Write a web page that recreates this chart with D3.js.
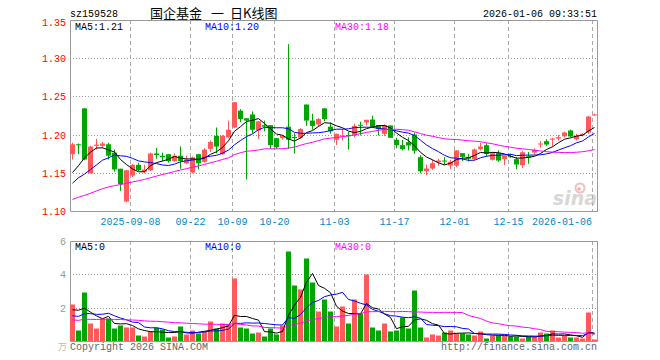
<!DOCTYPE html>
<html>
<head>
<meta charset="utf-8">
<script src="https://cdn.jsdelivr.net/npm/d3@7/dist/d3.min.js"></script>
<style>
body { margin: 0; background: #fff; }
text { font-family: 'Liberation Mono', 'DejaVu Sans Mono', monospace; font-size: 10px; }
</style>
</head>
<body>
<script>
//trading days shown on the chart (one candle each)
var dates = [
  '2025-08-25', '2025-08-26', '2025-08-27', '2025-08-28', '2025-08-29', '2025-09-01', '2025-09-02', '2025-09-03', '2025-09-04', '2025-09-05',
  '2025-09-08', '2025-09-09', '2025-09-10', '2025-09-11', '2025-09-12', '2025-09-15', '2025-09-16', '2025-09-17', '2025-09-18', '2025-09-19',
  '2025-09-22', '2025-09-23', '2025-09-24', '2025-09-25', '2025-09-26', '2025-09-29', '2025-09-30',
  '2025-10-09', '2025-10-10', '2025-10-13', '2025-10-14', '2025-10-15', '2025-10-16', '2025-10-17',
  '2025-10-20', '2025-10-21', '2025-10-22', '2025-10-23', '2025-10-24', '2025-10-27', '2025-10-28', '2025-10-29', '2025-10-30', '2025-10-31',
  '2025-11-03', '2025-11-04', '2025-11-05', '2025-11-06', '2025-11-07', '2025-11-10', '2025-11-11', '2025-11-12', '2025-11-13', '2025-11-14',
  '2025-11-17', '2025-11-18', '2025-11-19', '2025-11-20', '2025-11-21', '2025-11-24', '2025-11-25', '2025-11-26', '2025-11-27', '2025-11-28',
  '2025-12-01', '2025-12-02', '2025-12-03', '2025-12-04', '2025-12-05', '2025-12-08', '2025-12-09', '2025-12-10', '2025-12-11',
  '2025-12-15', '2025-12-16', '2025-12-17', '2025-12-18', '2025-12-19', '2025-12-22', '2025-12-23', '2025-12-24', '2025-12-25', '2025-12-26',
  '2025-12-29', '2025-12-30', '2025-12-31', '2026-01-05', '2026-01-06'
]

var opens = [
  1.175, 1.188, 1.235, 1.150, 1.186, 1.186, 1.188, 1.177, 1.156, 1.113,
  1.147, 1.161, 1.152, 1.154, 1.176, 1.173, 1.175, 1.166, 1.173, 1.163,
  1.151, 1.175, 1.165, 1.182, 1.199, 1.175, 1.197, 1.210, 1.232, 1.222,
  1.227, 1.206, 1.213, 1.213, 1.196, 1.196, 1.211, 1.1975, 1.1965, 1.240,
  1.219, 1.214, 1.235, 1.211, 1.194, 1.198, 1.200, 1.1995, 1.2135, 1.2165,
  1.2204, 1.213, 1.2017, 1.2126, 1.1938, 1.1868, 1.1907, 1.2008, 1.1711, 1.1528,
  1.1563, 1.1645, 1.1667, 1.1602, 1.160, 1.1763, 1.1715, 1.1685, 1.1816, 1.1868,
  1.1677, 1.1763, 1.1685, 1.1724, 1.1685, 1.1606, 1.1724, 1.1772, 1.1877, 1.192,
  1.194, 1.1955, 1.1985, 1.206, 1.1946, 1.1999, 1.2034, 1.2257
]
var highs = [
  1.190, 1.189, 1.235, 1.186, 1.195, 1.191, 1.190, 1.181, 1.156, 1.154,
  1.162, 1.164, 1.161, 1.177, 1.183, 1.177, 1.175, 1.176, 1.185, 1.173,
  1.172, 1.175, 1.183, 1.193, 1.210, 1.200, 1.219, 1.243, 1.234, 1.222,
  1.231, 1.218, 1.219, 1.213, 1.196, 1.200, 1.319, 1.2025, 1.209, 1.240,
  1.228, 1.222, 1.235, 1.2165, 1.2017, 1.208, 1.204, 1.215, 1.2175, 1.220,
  1.2253, 1.213, 1.214, 1.2126, 1.1965, 1.1938, 1.1972, 1.2035, 1.1737, 1.1615,
  1.1676, 1.169, 1.1711, 1.1676, 1.180, 1.1763, 1.1755, 1.1825, 1.190, 1.1894,
  1.1776, 1.180, 1.1733, 1.1755, 1.1711, 1.179, 1.178, 1.1825, 1.192, 1.1946,
  1.1965, 1.200, 1.2047, 1.207, 1.2017, 1.2026, 1.2253, 1.2283
]
var lows = [
  1.168, 1.175, 1.167, 1.150, 1.181, 1.183, 1.168, 1.152, 1.127, 1.112,
  1.145, 1.153, 1.150, 1.153, 1.169, 1.166, 1.164, 1.165, 1.156, 1.162,
  1.150, 1.155, 1.164, 1.178, 1.176, 1.174, 1.196, 1.209, 1.217, 1.142,
  1.202, 1.195, 1.205, 1.182, 1.182, 1.194, 1.182, 1.176, 1.1955, 1.212,
  1.207, 1.211, 1.218, 1.202, 1.187, 1.193, 1.181, 1.197, 1.1995, 1.2125,
  1.2095, 1.1995, 1.199, 1.1965, 1.1829, 1.180, 1.180, 1.1755, 1.1501, 1.1475,
  1.1545, 1.1598, 1.1615, 1.1553, 1.158, 1.166, 1.1655, 1.167, 1.180, 1.172,
  1.1667, 1.165, 1.1606, 1.1703, 1.1553, 1.157, 1.1625, 1.1746, 1.1834, 1.186,
  1.185, 1.193, 1.197, 1.1972, 1.193, 1.1985, 1.2017, 1.2253
]
var closes = [
  1.188, 1.187, 1.168, 1.185, 1.1875, 1.189, 1.173, 1.155, 1.136, 1.154,
  1.161, 1.154, 1.155, 1.176, 1.174, 1.171, 1.166, 1.173, 1.166, 1.168,
  1.171, 1.163, 1.181, 1.191, 1.185, 1.199, 1.207, 1.243, 1.221, 1.219,
  1.207, 1.218, 1.211, 1.187, 1.184, 1.199, 1.194, 1.1965, 1.208, 1.219,
  1.212, 1.221, 1.221, 1.205, 1.2017, 1.1995, 1.1985, 1.212, 1.2125, 1.220,
  1.2096, 1.2078, 1.213, 1.1965, 1.1867, 1.1816, 1.1864, 1.1795, 1.1528, 1.1563,
  1.1632, 1.1667, 1.1655, 1.165, 1.180, 1.1715, 1.169, 1.1812, 1.185, 1.1755,
  1.1763, 1.1667, 1.1733, 1.171, 1.1615, 1.1776, 1.1706, 1.1807, 1.189, 1.1877,
  1.1955, 1.1972, 1.2034, 1.1982, 1.199, 1.2017, 1.2243, 1.227
]
//volume, same unit as the axis (万)
var volume = [
  2.22, 0.66, 2.94, 1.08, 0.78, 1.38, 1.38, 0.78, 0.96, 0.84,
  0.84, 0.36, 0.30, 0.60, 0.82, 0.72, 0.24, 0.30, 0.90, 0.42,
  0.66, 0.48, 0.60, 1.20, 0.78, 1.08, 1.02, 3.78, 0.84, 0.78,
  0.48, 0.54, 0.30, 0.78, 0.42, 0.96, 5.40, 3.36, 3.12, 4.98,
  3.54, 1.80, 2.52, 1.80, 0.90, 2.10, 1.08, 2.52, 1.68, 4.02,
  0.84, 0.66, 1.08, 0.60, 0.66, 1.44, 0.78, 3.06, 0.84, 0.24,
  0.42, 0.36, 0.54, 0.66, 0.48, 0.48, 0.42, 0.36, 0.60, 0.18,
  0.36, 0.36, 0.36, 0.30, 0.30, 0.18, 0.30, 0.30, 0.54, 0.48,
  0.66, 0.24, 0.36, 0.24, 0.24, 0.18, 1.74, 0.12
]
//29 sessions before the window, estimated from where the MA lines start
var closeHist = [
  1.095, 1.098, 1.100, 1.097, 1.102, 1.105, 1.100, 1.098, 1.103, 1.106,
  1.108, 1.104, 1.107, 1.110, 1.108, 1.112, 1.109, 1.111, 1.113, 1.114,
  1.115, 1.120, 1.125, 1.128, 1.127, 1.142, 1.117, 1.148, 1.160
]
var volumeHist = [
  1.5, 0.9, 1.3, 1.1, 0.8, 1.4, 1.2, 1.0, 1.6, 1.1,
  0.9, 1.3, 1.2, 1.0, 1.4, 1.1, 1.3, 1.0, 1.2, 1.2,
  1.0, 1.3, 1.1, 1.2, 1.3, 0.8, 2.3, 2.3, 1.9
]

var tickDates = ['2025-09-08', '2025-09-22', '2025-10-09', '2025-10-20', '2025-11-03', '2025-11-17', '2025-12-01', '2025-12-15', '2026-01-06']
var tickLabels = ['2025-09-08', '09-22', '10-09', '10-20', '11-03', '11-17', '12-01', '12-15', '2026-01-06']
var priceTicks = [1.10, 1.15, 1.20, 1.25, 1.30, 1.35]
var volumeTicks = [2, 4, 6]
var maPeriods = [5, 10, 30]
var maColors = ['#000', '#0000ff', '#ff00ff']

var w = 660, h = 360,
    plotLeft = 70, plotRight = 598,
    plotTop = 20, plotBottom = 211,
    volTop = 241, volBottom = 341,
    upColor = '#ff5a5a', downColor = '#00a600', gridColor = '#aaa'

var svg = d3.select('body').append('svg')
    .attr('width', w)
    .attr('height', h)

var x = d3.scaleBand().domain(dates).range([plotLeft, plotRight])
var y = d3.scaleLinear().domain([1.10, 1.35]).range([plotBottom + 0.5, plotTop + 0.5])
var yv = d3.scaleLinear().domain([0, 6]).range([volBottom + 0.5, volTop + 0.5])

var bw = x.bandwidth() - 1

//moving average over the window, using the earlier sessions for the first points
function movingAvg(values, hist, n) {
    var all = hist.concat(values)
    return values.map(function(v, i) {
        var end = hist.length + i + 1
        return d3.mean(all.slice(end - n, end))
    })
}

function px(v) { return Math.floor(v) + 0.5 }

var up = closes.map(function(c, i) { return c >= opens[i] })

//header
svg.append('text').attr('x', plotLeft).attr('y', 17).text('sz159528')
var cjk = "'Noto Sans CJK SC', sans-serif"
svg.append('text').attr('x', 150).attr('y', 18)
    .style('font-family', cjk).style('font-size', '13px').text('国企基金')
svg.append('text').attr('x', 211).attr('y', 18)
    .style('font-family', cjk).style('font-size', '13px').text('一')
svg.append('text').attr('x', 230).attr('y', 18)
    .style('font-family', cjk).style('font-size', '13px').text('日K线图')
svg.append('text').attr('x', 597).attr('y', 17).attr('text-anchor', 'end').text('2026-01-06 09:33:51')

//panels: borders, grid
function panel(y0, y1, ys, ticks) {
    var g = svg.append('g')
    g.selectAll('.hgrid').data(ticks.filter(function(t) { return px(ys(t)) > y0 + 1 && px(ys(t)) < y1 }))
        .enter().append('line')
        .attr('x1', plotLeft).attr('x2', 597)
        .attr('y1', function(d) { return px(ys(d)) })
        .attr('y2', function(d) { return px(ys(d)) })
        .attr('stroke', '#999').attr('stroke-dasharray', '1,2')
    g.selectAll('.vgrid').data(tickDates).enter().append('line')
        .attr('x1', function(d) { return x(d) + 0.5 })
        .attr('x2', function(d) { return x(d) + 0.5 })
        .attr('y1', y0).attr('y2', y1)
        .attr('stroke', gridColor).attr('stroke-dasharray', '4,3')
    g.append('path')
        .attr('d', 'M' + (plotLeft + 0.5) + ',' + (y0 + 0.5) + 'H597.5V' + (y1 + 0.5) + 'H' + (plotLeft + 0.5) + 'Z')
        .attr('fill', 'none').attr('stroke', '#999')
    return g
}
panel(plotTop, plotBottom, y, priceTicks)
panel(volTop, volBottom, yv, volumeTicks)

//price axis labels
svg.selectAll('.plabel').data(priceTicks).enter().append('text')
    .attr('x', 66).attr('text-anchor', 'end')
    .attr('y', function(d) { return Math.max(y(d), plotTop + 2.5) + 3.5 })
    .attr('fill', '#f00')
    .text(function(d) { return d.toFixed(2) })

svg.selectAll('.vlabel').data(volumeTicks).enter().append('text')
    .attr('x', 66).attr('text-anchor', 'end')
    .attr('y', function(d) { return yv(d) + 3.5 })
    .attr('fill', '#999')
    .text(function(d) { return d })
svg.append('text').attr('x', 67).attr('y', 350).attr('text-anchor', 'end')
    .attr('fill', '#bbb').style('font-family', cjk).style('font-size', '9px')
    .text('万')

//date labels
svg.selectAll('.xlabel').data(tickDates).enter().append('text')
    .attr('x', function(d, i) { return i == tickDates.length - 1 ? x(d) : x(d) + 0.5 })
    .attr('text-anchor', function(d, i) { return i == tickDates.length - 1 ? 'end' : 'middle' })
    .attr('y', 225)
    .attr('fill', '#0088cc')
    .text(function(d, i) { return tickLabels[i] })

//sina watermark
var logo = svg.append('g').attr('opacity', 0.55)
logo.append('text').attr('x', 597).attr('y', 205).attr('text-anchor', 'end')
    .style('font-family', "'DejaVu Sans', sans-serif").style('font-size', '19px')
    .style('font-style', 'italic').style('font-weight', 'bold')
    .attr('fill', '#b8b8b8').text('sina')
logo.append('circle').attr('cx', 580).attr('cy', 188).attr('r', 4.5)
    .attr('fill', 'none').attr('stroke', '#e88').attr('stroke-width', 2)
logo.append('circle').attr('cx', 579).attr('cy', 189).attr('r', 1.8).attr('fill', '#e66')

//candles
var candles = svg.append('g').selectAll('g').data(dates).enter().append('g')
candles.append('line')
    .attr('x1', function(d) { return x(d) + 2.5 })
    .attr('x2', function(d) { return x(d) + 2.5 })
    .attr('y1', function(d, i) { return y(highs[i]) })
    .attr('y2', function(d, i) { return y(lows[i]) })
    .attr('stroke', function(d, i) { return up[i] ? upColor : downColor })
candles.append('rect')
    .attr('x', function(d) { return x(d) })
    .attr('width', bw)
    .attr('y', function(d, i) { return y(Math.max(opens[i], closes[i])) })
    .attr('height', function(d, i) { return Math.max(1, Math.abs(y(opens[i]) - y(closes[i]))) })
    .attr('fill', function(d, i) { return up[i] ? upColor : downColor })

//volume bars
svg.append('g').selectAll('rect').data(volume).enter().append('rect')
    .attr('x', function(d, i) { return x(dates[i]) })
    .attr('width', bw)
    .attr('y', function(d) { return yv(d) })
    .attr('height', function(d) { return volBottom - yv(d) })
    .attr('fill', function(d, i) { return up[i] ? upColor : downColor })

//moving averages
function maLine(ys) {
    return d3.line()
        .x(function(d, i) { return x(dates[i]) + 2.5 })
        .y(function(d) { return ys(d) })
}
var priceMa = maPeriods.map(function(n) { return movingAvg(closes, closeHist, n) })
var volumeMa = maPeriods.map(function(n) { return movingAvg(volume, volumeHist, n) })

priceMa.forEach(function(m, k) {
    svg.append('path').attr('d', maLine(y)(m))
        .attr('fill', 'none').attr('stroke', maColors[k]).attr('stroke-width', 1)
})
volumeMa.forEach(function(m, k) {
    svg.append('path').attr('d', maLine(yv)(m))
        .attr('fill', 'none').attr('stroke', maColors[k]).attr('stroke-width', 1)
})

//legends
var legendX = [75, 205, 335]
maPeriods.forEach(function(n, k) {
    svg.append('text').attr('x', legendX[k]).attr('y', 29.5).attr('fill', maColors[k])
        .text('MA' + n + ':' + priceMa[k][priceMa[k].length - 1].toFixed(2))
    svg.append('text').attr('x', legendX[k]).attr('y', 249.5).attr('fill', maColors[k])
        .text('MA' + n + ':0')
})

//footer
svg.append('text').attr('x', plotLeft).attr('y', 349.5).attr('fill', '#666').text('Copyright 2026 SINA.COM')
svg.append('text').attr('x', 597).attr('y', 349.5).attr('text-anchor', 'end').attr('fill', '#666').text('http://finance.sina.com.cn')
</script>
</body>
</html>
